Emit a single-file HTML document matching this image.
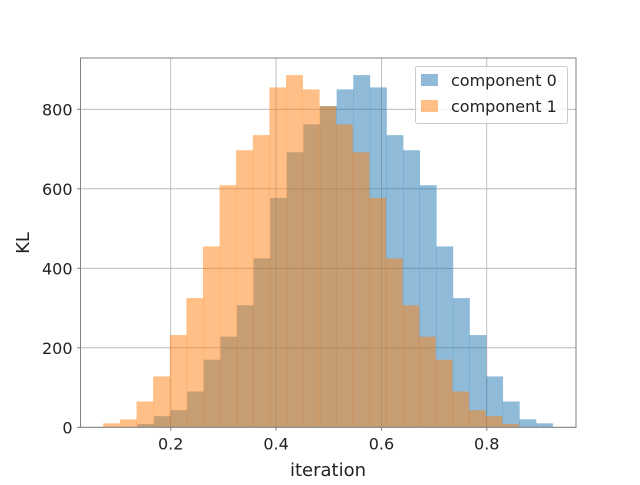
<!DOCTYPE html>
<html><head><meta charset="utf-8"><style>
body{margin:0;background:#fff}
svg text{font-family:"DejaVu Sans","Liberation Sans",sans-serif;fill:#222}
</style></head><body>
<svg id="chart" width="640" height="480" xmlns="http://www.w3.org/2000/svg">
<g id="grid"></g><g id="bars"></g><g id="axes"></g>
</svg>
<script>
const binStart0 = 0.1365;
const binStart1 = 0.072;
const binWidth = 0.03154;
const comp0Counts = [8,28,43,90,170,228,307,425,577,692,762,808,850,886,855,735,697,609,455,325,232,128,65,20,10];
const comp1Counts = [10,20,65,128,232,325,455,609,697,735,855,886,850,808,762,692,577,425,307,228,170,90,43,28,8];
const xTicks = [0.2,0.4,0.6,0.8];
const yTicks = [0,200,400,600,800];
const seriesNames = ["component 0","component 1"];

const L=80.5,R=576,T=58,B=427.3;
const X=v=>65.4+v*526.7;
const Y=v=>B-(v/800)*(B-109.3);
const NS="http://www.w3.org/2000/svg";
function mk(tag,attrs,parent){const e=document.createElementNS(NS,tag);for(const k in attrs)e.setAttribute(k,attrs[k]);parent.appendChild(e);return e;}
const grid=document.getElementById('grid'),bars=document.getElementById('bars'),axes=document.getElementById('axes');
xTicks.forEach(t=>{const l=mk('line',{x1:X(t),x2:X(t),y1:T,y2:B,stroke:'#b0b0b0','stroke-width':0.8},grid);

});
yTicks.forEach(t=>{const l=mk('line',{x1:L,x2:R,y1:Y(t),y2:Y(t),stroke:'#b0b0b0','stroke-width':0.8},grid);

});
function drawSeries(counts,start,color,name){
 counts.forEach((c,i)=>{const x0=X(start+i*binWidth),x1=X(start+(i+1)*binWidth);
  const r=mk('rect',{x:x0,y:Y(c),width:x1-x0+0.3,height:B-Y(c),fill:color,'fill-opacity':0.5},bars);
  
  });
}
drawSeries(comp0Counts,binStart0,'#1f77b4','component-0');
drawSeries(comp1Counts,binStart1,'#ff7f0e','component-1');
const fr=mk('rect',{x:L,y:T,width:R-L,height:B-T,fill:'none',stroke:'#808080','stroke-width':1},axes);


xTicks.forEach(t=>{mk('line',{x1:X(t),x2:X(t),y1:B,y2:B+3.5,stroke:'#808080'},axes);
 const tx=mk('text',{x:X(t),y:B+22,'text-anchor':'middle','font-size':16},axes);tx.textContent=t.toFixed(1);
 
 });
yTicks.forEach(t=>{mk('line',{x1:L-3.5,x2:L,y1:Y(t),y2:Y(t),stroke:'#808080'},axes);
 const tx=mk('text',{x:L-8,y:Y(t)+6,'text-anchor':'end','font-size':16},axes);tx.textContent=t;
 
 });
const xl=mk('text',{x:328,y:476,'text-anchor':'middle','font-size':18},axes);xl.textContent='iteration';


const yl=mk('text',{x:0,y:0,'text-anchor':'middle','font-size':18,transform:'translate(29,243) rotate(-90)'},axes);yl.textContent='KL';


const lg=mk('g',{},axes);


mk('rect',{x:415.5,y:66.5,width:152,height:57,fill:'#fff','fill-opacity':0.8,stroke:'#ccc',rx:2},lg);
seriesNames.forEach((n,i)=>{const c=i?'#ff7f0e':'#1f77b4';
 mk('rect',{x:421,y:74+i*26,width:17,height:12,fill:c,'fill-opacity':0.5},lg);
 const t=mk('text',{x:451,y:86+i*26,'font-size':16},lg);t.textContent=n;
 
 });
</script>
</body></html>
